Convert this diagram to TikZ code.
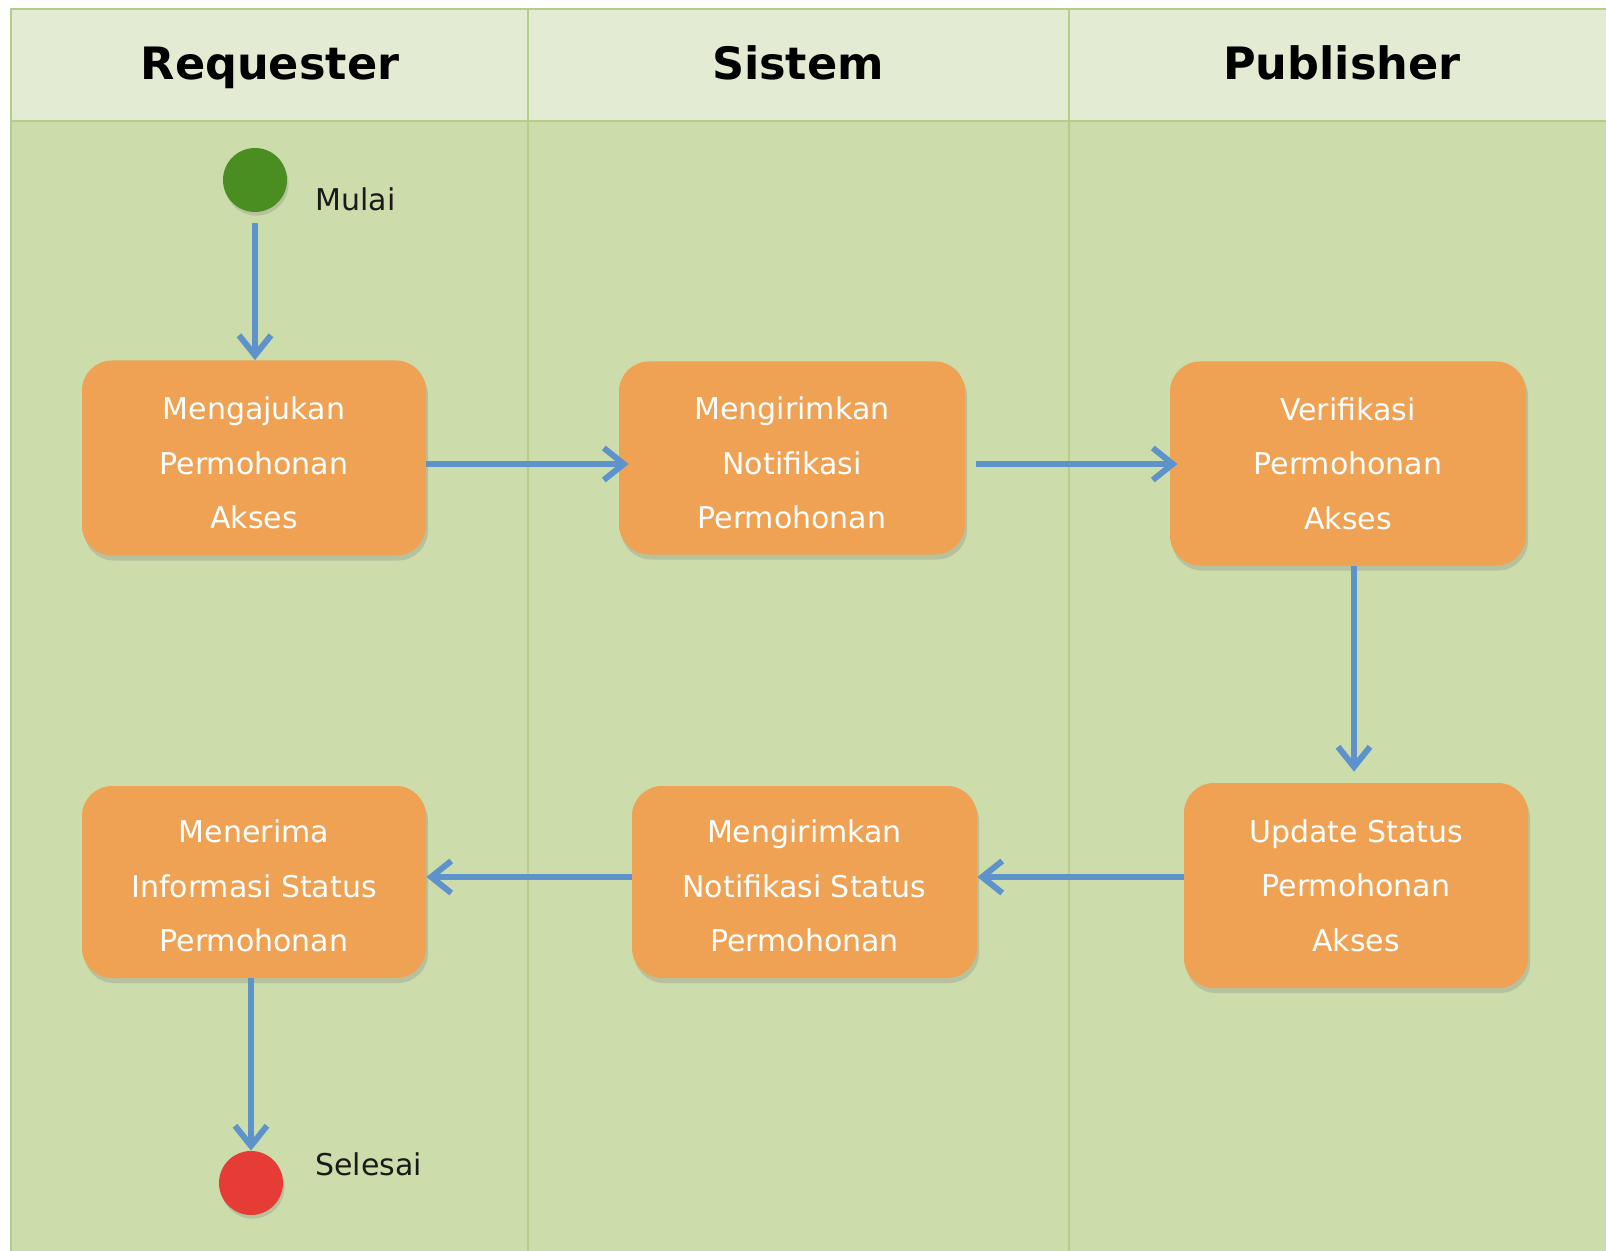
\documentclass[tikz,border=0pt]{standalone}
\usepackage{fontspec}
\setmainfont{DejaVu Sans}
\usetikzlibrary{arrows.meta,shadows}
\definecolor{hdrc}{HTML}{E3ECD3}
\definecolor{bodyc}{HTML}{CCDCAA}
\definecolor{framec}{HTML}{B5CD8A}
\definecolor{boxc}{HTML}{EFA254}
\definecolor{flowc}{HTML}{5E92CB}
\definecolor{startc}{HTML}{4A8E22}
\definecolor{endc}{HTML}{E53C36}
\definecolor{lblc}{HTML}{1A1A1A}
\newcommand{\lowfirst}[1]{\rule{0pt}{#1}}
\begin{document}
\begin{tikzpicture}[x=0.5pt,y=-0.5pt,
  act/.style={rectangle,rounded corners=15pt,fill=boxc,text=white,align=center,
    font=\fontsize{15}{27.25}\selectfont,minimum width=172pt,inner sep=0pt,
    drop shadow={shadow xshift=1pt,shadow yshift=-2.5pt,opacity=0.28}},
  dot/.style={circle,minimum size=32pt,inner sep=0pt,
    drop shadow={shadow xshift=0.8pt,shadow yshift=-1.8pt,opacity=0.28}},
  lane/.style={font=\fontsize{22.3}{26}\selectfont\bfseries,text=black,anchor=base},
  lbl/.style={font=\fontsize{15}{18}\selectfont,text=lblc,anchor=west,inner sep=0pt},
  flow/.style={draw=flowc,line width=3pt,-{Straight Barb[length=10pt,width=16pt]}},
  frameline/.style={draw=framec,line width=1.2pt}]
\useasboundingbox (0,0) rectangle (1606,1251);
% lanes
\fill[hdrc] (11,9) rectangle (1606,121);
\fill[bodyc] (11,121) rectangle (1606,1251);
\draw[frameline] (1606,9) -- (11,9) -- (11,1251);
\draw[frameline] (11,121) -- (1606,121);
\draw[frameline] (528,9) -- (528,1251);
\draw[frameline] (1069,9) -- (1069,1251);
\node[lane] (h1) at (270,80) {Requester};
\node[lane] (h2) at (798,80) {Sistem};
\node[lane] (h3) at (1342,80) {Publisher};
% start / end
\node[dot,fill=startc] (start) at (255,180) {};
\node[lbl] (mulai) at (315,199) {Mulai};
\node[dot,fill=endc] (end) at (251,1183) {};
\node[lbl] (selesai) at (315,1164) {Selesai};
% activities
\node[act,minimum height=97.5pt] (b1) at (254,458) {\lowfirst{16.4pt}Mengajukan\\Permohonan\\Akses};
\node[act,minimum height=96.5pt,minimum width=173pt] (b2) at (792,458) {\lowfirst{16.4pt}Mengirimkan\\Notifikasi\\Permohonan};
\node[act,minimum height=102pt,minimum width=178pt] (b3) at (1348,463.5) {Verifikasi\\Permohonan\\Akses};
\node[act,minimum height=102.5pt] (b4) at (1356,885.5) {Update Status\\Permohonan\\Akses};
\node[act,minimum height=96pt,minimum width=172.5pt] (b5) at (804.5,882) {\lowfirst{15.4pt}Mengirimkan\\Notifikasi Status\\Permohonan};
\node[act,minimum height=96pt] (b6) at (254,882) {\lowfirst{15.4pt}Menerima\\Informasi Status\\Permohonan};
% helper coordinates
\coordinate (r1) at (0,464);
\coordinate (r2) at (0,877);
\coordinate (c3) at (1354,0);
% flows
\draw[flow,shorten <=5.5pt] (start.south) -- (start.south |- b1.north);
\draw[flow,shorten >=-5pt] (b1.east |- r1) -- (b2.west |- r1);
\draw[flow,shorten <=5.5pt,shorten >=-4pt] (b2.east |- r1) -- (b3.west |- r1);
\draw[flow,shorten >=5.5pt] (b3.south -| c3) -- (b4.north -| c3);
\draw[flow] (b4.west |- r2) -- (b5.east |- r2);
\draw[flow] (b5.west |- r2) -- (b6.east |- r2);
\draw[flow] (b6.south -| end.north) -- (end.north);
\end{tikzpicture}
\end{document}
